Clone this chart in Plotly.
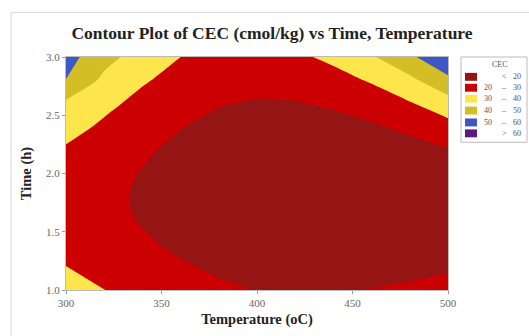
import plotly.graph_objects as go

# Temperature (oC) and Time (h) grid of the response surface
temperature = [300, 320, 340, 360, 380, 400, 420, 440, 460, 480, 500]
time_h = [1.0, 1.2, 1.4, 1.6, 1.8, 2.0, 2.2, 2.4, 2.6, 2.8, 3.0]
# CEC (cmol/kg) values; rows follow time_h, columns follow temperature
cec = [
    [34.5, 30.1, 26.4, 23.4, 21.3, 19.9, 19.3, 19.4, 20.4, 22.0, 24.9],
    [30.1, 26.4, 23.4, 20.8, 18.8, 17.1, 16.0, 15.5, 15.7, 16.6, 18.4],
    [26.5, 23.7, 21.0, 18.6, 16.6, 14.9, 13.6, 12.8, 12.5, 12.9, 14.1],
    [25.3, 22.2, 19.5, 17.2, 15.2, 13.5, 12.1, 11.2, 10.8, 11.0, 12.1],
    [25.5, 21.8, 19.0, 16.6, 14.6, 12.9, 11.6, 10.8, 10.6, 11.0, 12.3],
    [26.5, 22.7, 19.6, 16.9, 14.8, 13.2, 12.2, 11.7, 11.8, 12.8, 14.8],
    [28.7, 24.9, 21.1, 18.2, 16.0, 14.5, 13.7, 13.7, 14.6, 16.5, 19.5],
    [33.8, 28.2, 23.7, 20.3, 17.9, 16.5, 16.2, 16.9, 18.8, 22.0, 26.5],
    [38.0, 32.5, 27.0, 23.1, 20.5, 19.3, 19.5, 21.2, 24.3, 29.2, 35.8],
    [49.8, 37.7, 31.1, 26.4, 23.6, 22.6, 23.5, 26.3, 31.0, 37.8, 47.3],
    [53.7, 43.4, 35.5, 30.0, 26.9, 26.3, 28.0, 32.3, 38.9, 47.9, 59.5],
]
levels = [["<", "20"], ["20", "–", "30"], ["30", "–", "40"], ["40", "–", "50"], ["50", "–", "60"], [">", "60"]]
colors = ["#951414", "#CC0000", "#FDE64B", "#D4BE25", "#3F57C4", "#5C1A7E"]
x_ticks = [300, 350, 400, 450, 500]
y_ticks = [1.0, 1.5, 2.0, 2.5, 3.0]

W, H = 529, 336
L, R, T, B = 66, 448, 57, 292
def px(x): return (x - L) / (R - L)
def py(y): return (B - y) / (B - T)

cs = []
for i, c in enumerate(colors):
    cs.append([i / 6, c]); cs.append([(i + 1) / 6, c])

fig = go.Figure(go.Contour(
    x=temperature, y=time_h, z=cec,
    zmin=10, zmax=70, colorscale=cs, showscale=False,
    contours=dict(start=20, end=60, size=10, coloring="fill"),
    line=dict(width=0, smoothing=0.7), hoverinfo="skip"))

font_ax = dict(family="Liberation Serif", size=11, color="#666666")
title_font = dict(family="Liberation Serif", size=14.5, color="#222222")
fig.update_layout(
    width=W, height=H, margin=dict(l=L, r=W - R, t=T, b=H - B),
    paper_bgcolor="white", plot_bgcolor="white",
    title=dict(text="<b>Contour Plot of CEC (cmol/kg) vs Time, Temperature</b>",
               x=px(272), xref="paper", xanchor="center", y=1 - 33 / H, yanchor="middle",
               font=dict(family="Liberation Serif", size=17.5, color="#222222")),
    xaxis=dict(range=[300, 500], tickvals=x_ticks, ticks="outside", ticklen=3,
               tickcolor="#999", showgrid=False, zeroline=False, showline=True, linecolor="#bbbbbb", mirror=True,
               tickfont=font_ax,
               title=dict(text="<b>Temperature (oC)</b>", standoff=5, font=title_font)),
    yaxis=dict(range=[1, 3], tickvals=y_ticks, tickformat=".1f", ticks="outside", ticklen=3,
               tickcolor="#999", showgrid=False, zeroline=False, showline=True, linecolor="#bbbbbb", mirror=True,
               tickfont=font_ax,
               title=dict(text="<b>Time (h)</b>", standoff=10, font=title_font)),
)
shapes = [
    dict(type="rect", xref="paper", yref="paper", x0=px(11), x1=px(545), y0=py(350), y1=py(12),
         line=dict(color="#d4d4d4", width=1), layer="below"),
    dict(type="rect", xref="paper", yref="paper", x0=px(461), x1=px(527), y0=py(143), y1=py(57),
         line=dict(color="#bbbbbb", width=1)),
]
leg_font = dict(family="Liberation Serif", size=8, color="#555555")
ann = [dict(text="CEC", x=px(500), y=py(65), xref="paper", yref="paper", showarrow=False,
            xanchor="center", yanchor="middle", font=leg_font)]
rows = [77, 88, 99, 111, 123, 134]
for parts, c, ry in zip(levels, colors, rows):
    shapes.append(dict(type="rect", xref="paper", yref="paper", x0=px(465), x1=px(477),
                       y0=py(ry + 4), y1=py(ry - 4), fillcolor=c, line=dict(width=0)))
    xs = [504, 517] if len(parts) == 2 else [488, 504, 517]
    for t, xx in zip(parts, xs):
        ann.append(dict(text=t, x=px(xx), y=py(ry), xref="paper", yref="paper", showarrow=False,
                        xanchor="center", yanchor="middle", font=leg_font))
fig.update_layout(shapes=shapes, annotations=ann)
fig.write_html("out.html")
